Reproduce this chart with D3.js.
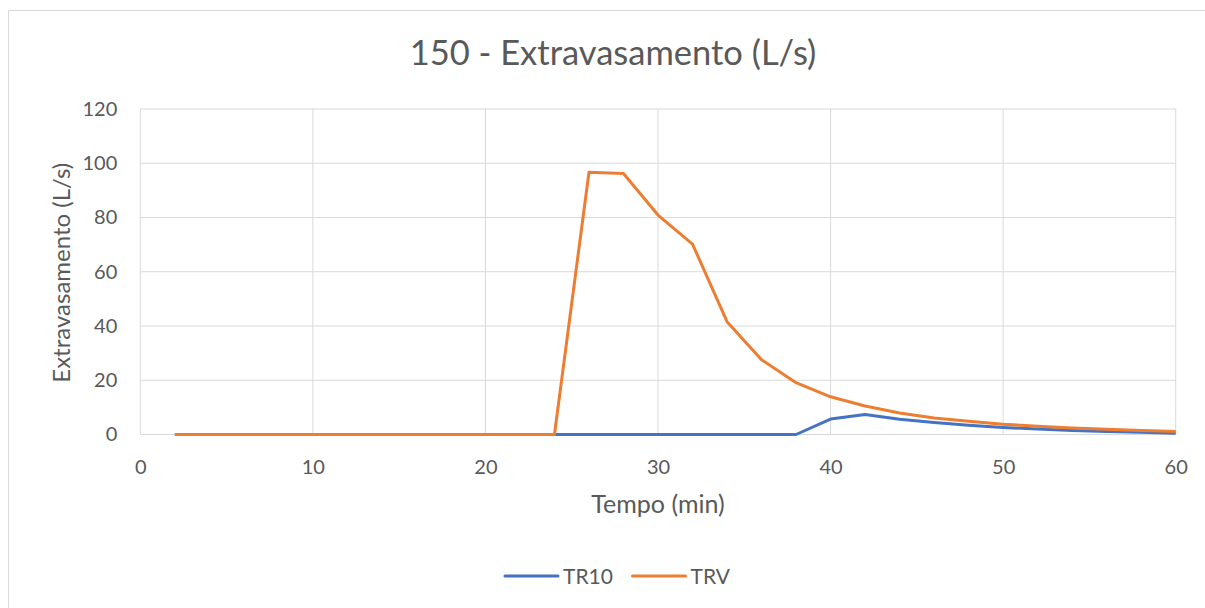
<!DOCTYPE html>
<html>
<head>
<meta charset="utf-8">
<script src="https://cdn.jsdelivr.net/npm/d3@7"></script>
<style>
  html, body { margin: 0; padding: 0; background: #fff; }
  svg { display: block; }
  text { font-family: Lato, "Open Sans", sans-serif; fill: #595959; }
</style>
</head>
<body>
<svg id="chart" width="1205" height="608"></svg>
<script>
// Time steps (min)
const tempo = [2,4,6,8,10,12,14,16,18,20,22,24,26,28,30,32,34,36,38,40,42,44,46,48,50,52,54,56,58,60];
// Overflow (L/s) per scenario
const tr10 = [0,0,0,0,0,0,0,0,0,0,0,0,0,0,0,0,0,0,0,5.7,7.4,5.6,4.4,3.4,2.6,2.0,1.5,1.1,0.8,0.5];
const trv  = [0,0,0,0,0,0,0,0,0,0,0,0,96.7,96.2,80.9,70.2,41.6,27.6,19.1,13.9,10.5,7.9,6.1,4.9,3.8,3.0,2.4,1.9,1.5,1.1];
const xTicks = [0,10,20,30,40,50,60];
const yTicks = [0,20,40,60,80,100,120];
const seriesNames = ["TR10", "TRV"];
const seriesColors = ["#4472C4", "#ED7D31"];

const svg = d3.select("#chart");
const W = 1205, H = 608;
const m = { left: 140.3, right: W - 1175.7, top: 109, bottom: H - 434.5 };

// chart frame (top and left edges visible)
svg.append("path")
  .attr("d", `M8.5,${H} V10.5 H${W}`)
  .attr("fill", "none").attr("stroke", "#D9D9D9").attr("stroke-width", 1);

const x = d3.scaleLinear().domain([0, 60]).range([m.left, W - m.right]);
const y = d3.scaleLinear().domain([0, 120]).range([H - m.bottom, m.top]);

// gridlines
const grid = svg.append("g");
grid.selectAll(".gy").data(yTicks).enter().append("line")
  .attr("x1", x(0)).attr("x2", x(60))
  .attr("y1", d => y(d)).attr("y2", d => y(d))
  .attr("stroke", "#D9D9D9").attr("stroke-width", 1);
grid.selectAll(".gx").data(xTicks).enter().append("line")
  .attr("x1", d => x(d)).attr("x2", d => x(d))
  .attr("y1", y(0)).attr("y2", y(120))
  .attr("stroke", "#D9D9D9").attr("stroke-width", 1);

// axes
const xAxis = svg.append("g").attr("transform", `translate(0,${y(0)})`)
  .call(d3.axisBottom(x).tickValues(xTicks).tickSize(0).tickPadding(25));
xAxis.select(".domain").remove();
xAxis.selectAll("text").style("font-size", "20px").attr("fill", "#595959");

const yAxis = svg.append("g").attr("transform", `translate(${x(0)},0)`)
  .call(d3.axisLeft(y).tickValues(yTicks).tickSize(0).tickPadding(23));
yAxis.select(".domain").remove();
yAxis.selectAll("text").style("font-size", "20px").attr("fill", "#595959");

// series lines
const line = d3.line().x(d => x(d[0])).y(d => y(d[1]));
[tr10, trv].forEach((vals, i) => {
  svg.append("path")
    .datum(tempo.map((t, j) => [t, vals[j]]))
    .attr("d", line)
    .attr("fill", "none")
    .attr("stroke", seriesColors[i])
    .attr("stroke-width", 3)
    .attr("stroke-linejoin", "round");
});

// title
svg.append("text").attr("x", 613).attr("y", 65).attr("text-anchor", "middle")
  .style("font-size", "34.5px").text("150 - Extravasamento (L/s)");

// axis titles
svg.append("text").attr("x", (x(0) + x(60)) / 2).attr("y", 513).attr("text-anchor", "middle")
  .style("font-size", "25px").text("Tempo (min)");
svg.append("text")
  .attr("transform", `translate(70,${(y(0) + y(120)) / 2 + 1}) rotate(-90)`)
  .attr("text-anchor", "middle")
  .style("font-size", "24px").text("Extravasamento (L/s)");

// legend
const legendX = [505, 632.5];
seriesNames.forEach((name, i) => {
  const g = svg.append("g").attr("transform", `translate(${legendX[i]},576)`);
  g.append("line").attr("x1", 0).attr("x2", 53).attr("y1", 0).attr("y2", 0)
    .attr("stroke", seriesColors[i]).attr("stroke-width", 3).attr("stroke-linecap", "round");
  g.append("text").attr("x", 58).attr("y", 7.5).style("font-size", "21px").text(name);
});
</script>
</body>
</html>
